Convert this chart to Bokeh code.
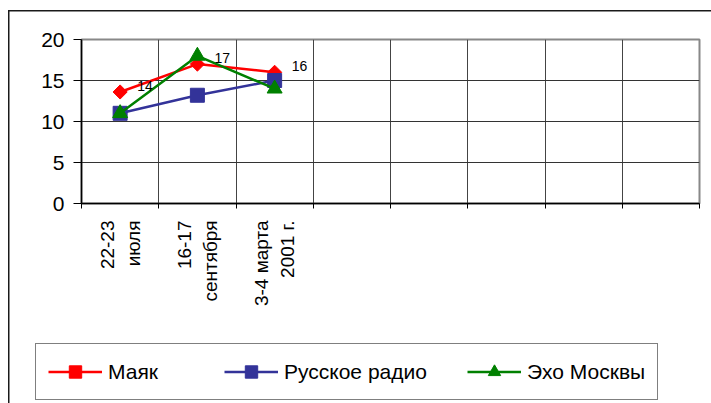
import numpy as np
from bokeh.plotting import figure
from bokeh.models import (ColumnDataSource, FixedTicker, Legend, LegendItem,
                          Range1d)
from bokeh.embed import file_html
from bokeh.resources import INLINE
from bokeh.core.properties import value

# ---- data ----
categories = ["22-23\nиюля", "16-17\nсентября", "3-4 марта\n2001 г."]
n_slots = 8
series_names = ["Маяк", "Русское радио", "Эхо Москвы"]
mayak = [13.6, 17.0, 16.0]
russkoe = [11.0, 13.2, 15.0]
echo = [11.0, 18.0, 14.0]
y_ticks = [0, 5, 10, 15, 20]

x = [i + 0.5 for i in range(len(categories))]
FONT = "Liberation Sans"
LINE = "linear-gradient(#1a1a1a,#1a1a1a)"

xr = Range1d(0, n_slots)
yr = Range1d(0, 20)

# ---------------- main chart ----------------
p = figure(width=711, height=330, output_backend="svg", toolbar_location=None,
           x_range=xr, y_range=yr,
           min_border_left=81, min_border_right=12, min_border_top=39,
           min_border_bottom=127)
p.background_fill_color = "white"
p.border_fill_alpha = 0
p.outline_line_color = "#888888"
p.outline_line_width = 2
p.styles = {
    "background": (f"{LINE} 8px 10px / 1.5px 100% no-repeat, "
                   f"{LINE} 8px 10px / 100% 1.5px no-repeat, white"),
}

# grids
p.ygrid.ticker = FixedTicker(ticks=y_ticks)
p.ygrid.grid_line_color = "#333333"
p.ygrid.grid_line_width = 1
p.xgrid.ticker = FixedTicker(ticks=list(range(1, n_slots)))
p.xgrid.grid_line_color = "#444444"
p.xgrid.grid_line_width = 1

# series
colors = ["#FF0000", "#333399", "#008000"]
markers = ["square", "square", "triangle"]
angles = [np.pi / 4, 0, 0]
sizes = [10, 14, 15]
sources = []
for vals, c, m, a, s in zip([mayak, russkoe, echo], colors, markers, angles, sizes):
    src = ColumnDataSource(dict(x=x, y=vals))
    sources.append(src)
    p.line("x", "y", source=src, line_color=c, line_width=2.5)
    p.scatter("x", "y", source=src, marker=m, size=s, angle=a,
              fill_color=c, line_color=c)

# data labels for Маяк
labels = [f"{v:.0f}" for v in mayak]
p.text(x=x, y=mayak, text=labels, x_offset=17, y_offset=-6,
       text_baseline="middle", text_align="left",
       text_font=value(FONT), text_font_size="14px", text_color="black")

# x axis
p.xaxis.ticker = FixedTicker(ticks=x, minor_ticks=list(range(n_slots + 1)))
p.xaxis.major_label_overrides = {xi: c for xi, c in zip(x, categories)}
p.xaxis.major_tick_out = 0
p.xaxis.major_tick_in = 0
p.xaxis.minor_tick_out = 5
p.xaxis.minor_tick_in = 0
p.xaxis.minor_tick_line_color = "black"
p.xaxis.major_label_standoff = 12
p.xaxis.major_label_orientation = np.pi / 2
p.xaxis.major_label_text_font = FONT
p.xaxis.major_label_text_font_size = "19px"
p.xaxis.major_label_text_color = "black"
p.xaxis.major_label_text_line_height = 1.25
p.xaxis.axis_line_color = "black"
p.xaxis.axis_line_width = 1.5

# y axis
p.yaxis.ticker = FixedTicker(ticks=y_ticks)
p.yaxis.major_tick_out = 8
p.yaxis.major_tick_in = 0
p.yaxis.minor_tick_out = 0
p.yaxis.minor_tick_in = 0
p.yaxis.major_tick_line_color = "black"
p.yaxis.major_label_standoff = 9
p.yaxis.major_label_text_font = FONT
p.yaxis.major_label_text_font_size = "21px"
p.yaxis.major_label_text_color = "black"
p.yaxis.axis_line_color = "black"
p.yaxis.axis_line_width = 1.5

# ---------------- legend strip ----------------
pl = figure(width=711, height=73, output_backend="svg", toolbar_location=None,
            x_range=xr, y_range=yr,
            x_axis_location=None, y_axis_location=None,
            min_border=0, min_border_left=0, min_border_right=0,
            min_border_top=0, min_border_bottom=0)
pl.grid.visible = False
pl.outline_line_color = None
pl.background_fill_alpha = 0
pl.border_fill_alpha = 0
pl.styles = {"background": f"{LINE} 8px 0px / 1.5px 100% no-repeat, white"}

items = []
for name, src, c, m, a, s in zip(series_names, sources, colors, markers, angles, sizes):
    ln = pl.line("x", "y", source=src, line_color=c, line_width=2.5, visible=False)
    sc = pl.scatter("x", "y", source=src, marker=m, size=s, angle=a,
                    fill_color=c, line_color=c, visible=False)
    items.append(LegendItem(label=name, renderers=[ln, sc]))

legend = Legend(items=items, orientation="horizontal", location=(35, 3),
                padding=12, spacing=40, label_standoff=6, glyph_width=54,
                glyph_height=31, label_width=76, margin=0,
                inactive_fill_alpha=0,
                label_text_font=FONT, label_text_font_size="21px",
                label_text_color="black",
                border_line_color="black", border_line_width=1,
                background_fill_color="white", background_fill_alpha=1)
pl.add_layout(legend, "center")

open("out.html", "w").write(file_html([p, pl], INLINE))
